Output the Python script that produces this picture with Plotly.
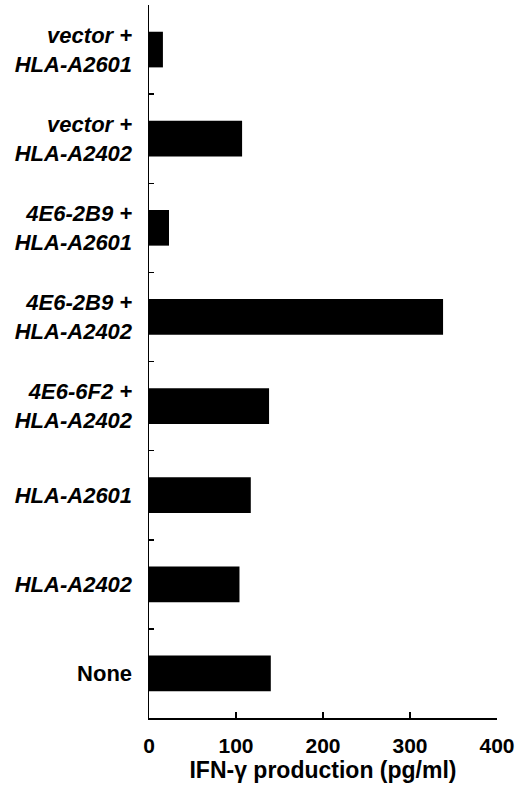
import plotly.graph_objects as go

categories = [
    "<i>vector +</i><br><i>HLA-A2601</i>",
    "<i>vector +</i><br><i>HLA-A2402</i>",
    "<i>4E6-2B9 +</i><br><i>HLA-A2601</i>",
    "<i>4E6-2B9 +</i><br><i>HLA-A2402</i>",
    "<i>4E6-6F2 +</i><br><i>HLA-A2402</i>",
    "<i>HLA-A2601</i>",
    "<i>HLA-A2402</i>",
    "None",
]
ifn_values = [16, 107, 23, 338, 138, 117, 104, 140]
x_ticks = [0, 100, 200, 300, 400]
x_title = "IFN-\u03b3 production (pg/ml)"

FONT = "Liberation Sans, Arial, Helvetica, sans-serif"

fig = go.Figure(
    go.Bar(
        y=categories,
        x=ifn_values,
        orientation="h",
        width=0.4,
        marker=dict(color="black", line=dict(width=0)),
        showlegend=False,
    )
)

fig.update_layout(
    width=520,
    height=789,
    margin=dict(l=149, r=23, t=5, b=71),
    paper_bgcolor="white",
    plot_bgcolor="white",
    bargap=0.6,
)

fig.update_yaxes(
    type="category",
    categoryorder="array",
    categoryarray=categories,
    autorange="reversed",
    automargin=False,
    showline=True,
    linecolor="black",
    linewidth=1.5,
    ticks="inside",
    tickson="boundaries",
    ticklen=5,
    tickwidth=1.5,
    tickcolor="black",
    showgrid=False,
    zeroline=False,
    tickfont=dict(family=FONT, size=22, color="black", weight="bold"),
    ticklabelstandoff=11,
)

fig.update_xaxes(
    range=[0, 400],
    tickvals=x_ticks,
    ticktext=[str(v) for v in x_ticks],
    automargin=False,
    showline=True,
    linecolor="black",
    linewidth=1.5,
    ticks="inside",
    ticklen=6,
    tickwidth=1.5,
    tickcolor="black",
    showgrid=False,
    zeroline=False,
    tickfont=dict(family=FONT, size=21, color="black", weight="bold"),
    ticklabelstandoff=8,
    title=dict(text=x_title, font=dict(family=FONT, size=23, color="black", weight="bold"), standoff=0),
)

fig.write_html(
    "out.html",
    config={"displayModeBar": False, "staticPlot": True},
    post_script="document.body.style.margin='0';document.body.style.overflow='hidden';",
)
